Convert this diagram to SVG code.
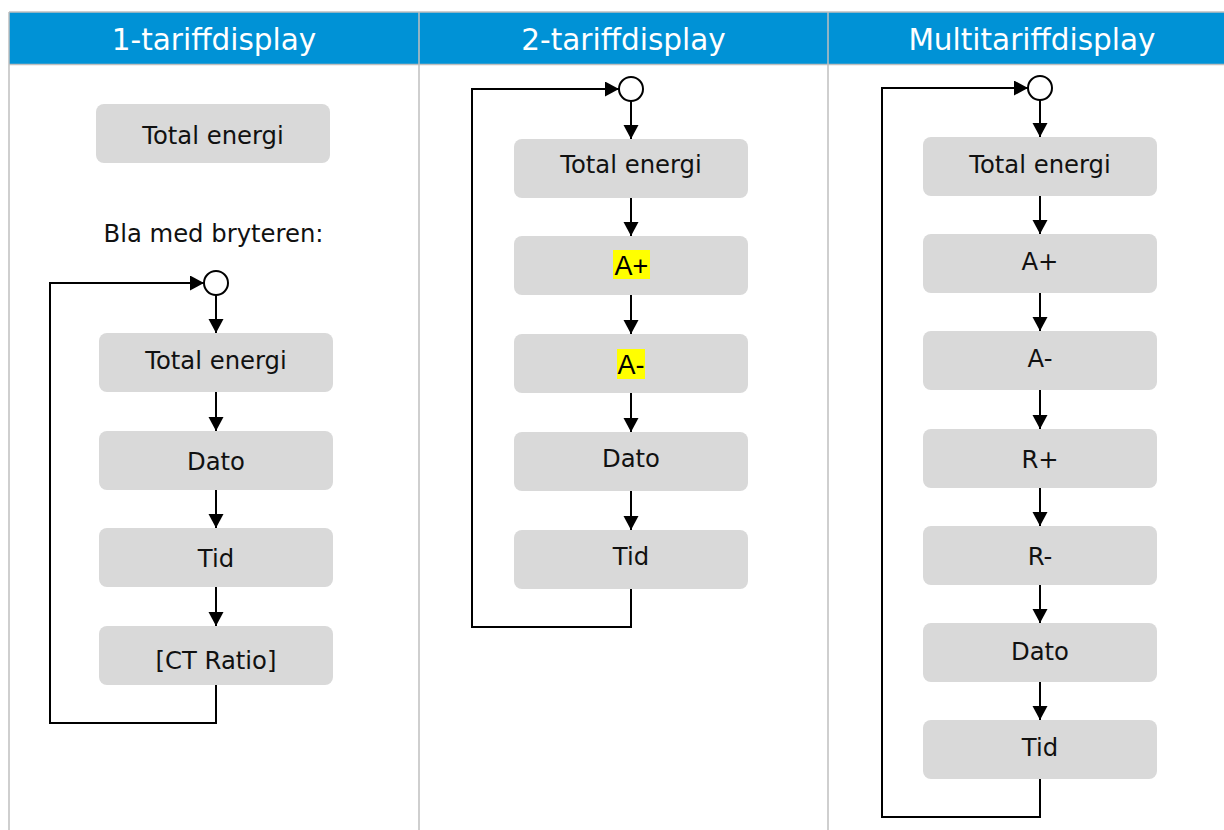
<svg xmlns="http://www.w3.org/2000/svg" width="1224" height="830" viewBox="0 0 1224 830">
<defs>
<marker id="ah" markerUnits="userSpaceOnUse" markerWidth="16" markerHeight="16" refX="14" refY="7.5" orient="auto">
<path d="M0,0 L14,7.5 L0,15 z" fill="#000"/>
</marker>
<style>
.hdr{fill:#0092d6}
.grid{stroke:#bfbfbf;stroke-width:1.5;fill:none}
.ht{font-family:"DejaVu Sans",Verdana,sans-serif;font-size:29.5px;fill:#fff;text-anchor:middle}
.box{fill:#d9d9d9}
.t{font-family:"DejaVu Sans",Verdana,sans-serif;font-size:24.3px;fill:#111;text-anchor:middle}
.ta{font-family:"Liberation Sans",Arial,sans-serif;font-size:27px;fill:#000;text-anchor:middle}
.hl{fill:#ffff00}
.c{stroke:#000;stroke-width:2;fill:none}
.ca{stroke:#000;stroke-width:2;fill:none;marker-end:url(#ah)}
.circ{stroke:#000;stroke-width:2;fill:#fff}
</style>
</defs>
<rect width="1224" height="830" fill="#fff"/>
<g id="table">
<rect class="hdr" x="9" y="12" width="1230" height="52.5"/>
<line class="grid" x1="9" y1="12" x2="1236" y2="12"/>
<line class="grid" x1="9" y1="64.5" x2="1236" y2="64.5"/>
<line class="grid" x1="9" y1="12" x2="9" y2="830"/>
<line class="grid" x1="419" y1="12" x2="419" y2="830"/>
<line class="grid" x1="828" y1="12" x2="828" y2="830"/>
<text class="ht" x="214" y="50">1-tariffdisplay</text>
<text class="ht" x="623.5" y="50">2-tariffdisplay</text>
<text class="ht" x="1032" y="50">Multitariffdisplay</text>
</g>
<g id="connectors">
<line class="ca" x1="216" y1="295" x2="216" y2="333"/>
<line class="ca" x1="216" y1="392" x2="216" y2="431"/>
<line class="ca" x1="216" y1="490" x2="216" y2="528"/>
<line class="ca" x1="216" y1="587" x2="216" y2="626"/>
<path class="ca" d="M216,685 V723 H50 V283 H204"/>
<line class="ca" x1="631" y1="101" x2="631" y2="139"/>
<line class="ca" x1="631" y1="198" x2="631" y2="236"/>
<line class="ca" x1="631" y1="295" x2="631" y2="334"/>
<line class="ca" x1="631" y1="393" x2="631" y2="432"/>
<line class="ca" x1="631" y1="491" x2="631" y2="530"/>
<path class="ca" d="M631,589 V627 H472 V89 H619"/>
<line class="ca" x1="1040" y1="100" x2="1040" y2="137"/>
<line class="ca" x1="1040" y1="196" x2="1040" y2="234"/>
<line class="ca" x1="1040" y1="293" x2="1040" y2="331"/>
<line class="ca" x1="1040" y1="390" x2="1040" y2="429"/>
<line class="ca" x1="1040" y1="488" x2="1040" y2="526"/>
<line class="ca" x1="1040" y1="585" x2="1040" y2="623"/>
<line class="ca" x1="1040" y1="682" x2="1040" y2="720"/>
<path class="ca" d="M1040,779 V817 H882 V88 H1028"/>
</g>
<g id="c1-top"><rect class="box" x="96" y="104" width="234" height="59" rx="8"/><text class="t" x="213" y="144">Total energi</text></g>
<g id="c1-note"><text class="t" x="213.5" y="242">Bla med bryteren:</text></g>
<g id="c1-start"><circle class="circ" cx="216" cy="283" r="12"/></g>
<g id="c1-total"><rect class="box" x="99" y="333" width="234" height="59" rx="8"/><text class="t" x="216" y="369">Total energi</text></g>
<g id="c1-dato"><rect class="box" x="99" y="431" width="234" height="59" rx="8"/><text class="t" x="216" y="470">Dato</text></g>
<g id="c1-tid"><rect class="box" x="99" y="528" width="234" height="59" rx="8"/><text class="t" x="216" y="567">Tid</text></g>
<g id="c1-ct"><rect class="box" x="99" y="626" width="234" height="59" rx="8"/><text class="t" x="216" y="669">[CT Ratio]</text></g>

<g id="c2-start"><circle class="circ" cx="631" cy="89" r="12"/></g>
<g id="c2-total"><rect class="box" x="514" y="139" width="234" height="59" rx="8"/><text class="t" x="631" y="173">Total energi</text></g>
<g id="c2-aplus"><rect class="box" x="514" y="236" width="234" height="59" rx="8"/><rect class="hl" x="613" y="250" width="37" height="29"/><text class="ta" x="631.5" y="275">A+</text></g>
<g id="c2-aminus"><rect class="box" x="514" y="334" width="234" height="59" rx="8"/><rect class="hl" x="617" y="349" width="28" height="30"/><text class="ta" x="631" y="374">A-</text></g>
<g id="c2-dato"><rect class="box" x="514" y="432" width="234" height="59" rx="8"/><text class="t" x="631" y="467">Dato</text></g>
<g id="c2-tid"><rect class="box" x="514" y="530" width="234" height="59" rx="8"/><text class="t" x="631" y="565">Tid</text></g>

<g id="c3-start"><circle class="circ" cx="1040" cy="88" r="12"/></g>
<g id="c3-total"><rect class="box" x="923" y="137" width="234" height="59" rx="8"/><text class="t" x="1040" y="173">Total energi</text></g>
<g id="c3-aplus"><rect class="box" x="923" y="234" width="234" height="59" rx="8"/><text class="t" x="1040" y="270">A+</text></g>
<g id="c3-aminus"><rect class="box" x="923" y="331" width="234" height="59" rx="8"/><text class="t" x="1040" y="367">A-</text></g>
<g id="c3-rplus"><rect class="box" x="923" y="429" width="234" height="59" rx="8"/><text class="t" x="1040" y="468">R+</text></g>
<g id="c3-rminus"><rect class="box" x="923" y="526" width="234" height="59" rx="8"/><text class="t" x="1040" y="565">R-</text></g>
<g id="c3-dato"><rect class="box" x="923" y="623" width="234" height="59" rx="8"/><text class="t" x="1040" y="660">Dato</text></g>
<g id="c3-tid"><rect class="box" x="923" y="720" width="234" height="59" rx="8"/><text class="t" x="1040" y="756">Tid</text></g>
</svg>
